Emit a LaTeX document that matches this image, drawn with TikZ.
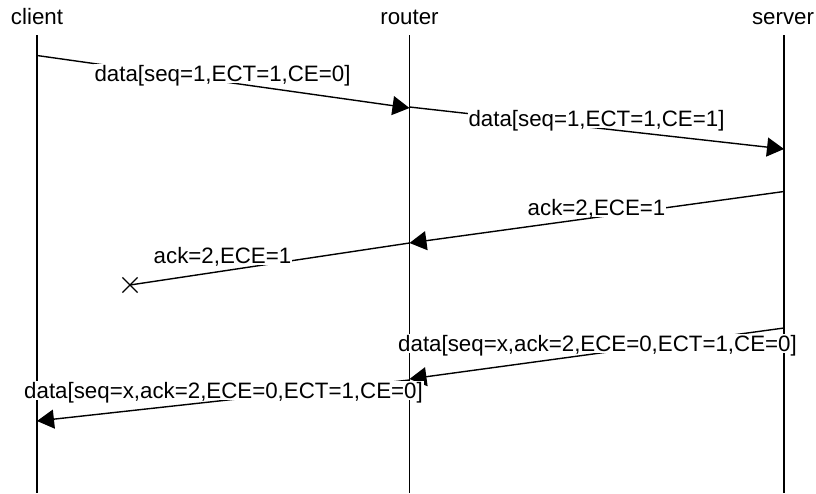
\documentclass[tikz,border=0pt]{standalone}
\usepackage{fontspec}
\setmainfont{Liberation Sans}
\usetikzlibrary{arrows.meta,shapes.misc}
\begin{document}
\begin{tikzpicture}[x=1pt,y=-1pt,
  every node/.style={font=\fontsize{22.3}{26}\selectfont},
  lifeline/.style={line width=1.4pt},
  msg/.style={line width=1.4pt,-{Triangle[length=17pt,width=19pt]}},
  lostmsg/.style={line width=1.4pt},
  msglabel/.style={fill=white,inner xsep=1pt,inner ysep=1.5pt,text depth=0pt,anchor=base},
  head/.style={anchor=base,inner sep=0pt}]
\useasboundingbox (0,0) rectangle (816,493);
% participants
\node[head] (client) at (37,24) {client};
\node[head] (router) at (409.5,24) {router};
\node[head] (server) at (783,24) {server};
% lifelines
\coordinate (cT) at (37,35);    \coordinate (cB) at (37,493);
\coordinate (rT) at (409.5,35); \coordinate (rB) at (409.5,493);
\coordinate (sT) at (784,35);   \coordinate (sB) at (784,493);
\draw[lifeline] (cT) -- (cB);
\draw[lifeline] (rT) -- (rB);
\draw[lifeline] (sT) -- (sB);
% message end points
\coordinate (c1) at (37,55.5);   \coordinate (r1) at (409.5,108);
\coordinate (r2) at (409.5,107); \coordinate (s2) at (784,149);
\coordinate (s3) at (784,191.5); \coordinate (r3) at (409.5,243);
\coordinate (r4) at (409.5,243);
\node[cross out,draw,line width=1.2pt,minimum size=14pt,inner sep=0pt] (lost) at (130,285) {};
\coordinate (s5) at (784,328);   \coordinate (r5) at (409.5,379);
\coordinate (r6) at (409.5,380); \coordinate (c6) at (37,421);
% messages
\draw[msg] (c1) -- (r1);
\draw[msg] (r2) -- (s2);
\draw[msg] (s3) -- (r3);
\draw[lostmsg] (r4) -- (lost.center);
\draw[msg] (s5) -- (r5);
\draw[msg] (r6) -- (c6);
% labels
\node[msglabel] (l1) at (222.5,81.7) {data[seq=1,ECT=1,CE=0]};
\node[msglabel] (l2) at (596.5,126.7) {data[seq=1,ECT=1,CE=1]};
\node[msglabel] (l3) at (596.5,215) {ack=2,ECE=1};
\node[msglabel] (l4) at (222.5,263.3) {ack=2,ECE=1};
\node[msglabel] (l5) at (597.5,351.7) {data[seq=x,ack=2,ECE=0,ECT=1,CE=0]};
\node[msglabel] (l6) at (223.5,398.3) {data[seq=x,ack=2,ECE=0,ECT=1,CE=0]};
\end{tikzpicture}
\end{document}
